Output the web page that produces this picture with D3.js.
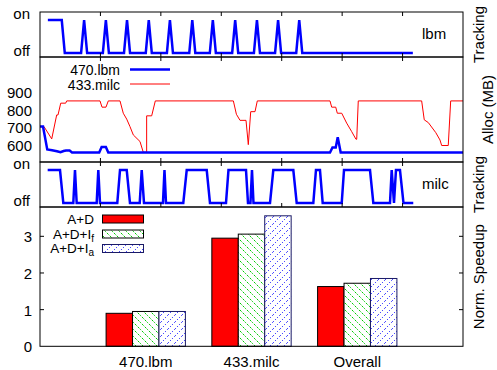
<!DOCTYPE html>
<html><head><meta charset="utf-8">
<script src="https://cdn.jsdelivr.net/npm/d3@7"></script>
<style>
body{margin:0;background:#fff}
text{font-family:"Liberation Sans",Arial,sans-serif;font-size:15px;fill:#000}
</style>
</head><body>
<svg id="c" width="497" height="370"></svg>
<script>
// ---------- data ----------
const trackTicks = ["off", "on"];
const timeTicks = [10, 20, 30, 40, 50, 60];
// lbm tracking state (time, 0=off / 1=on)
const lbmTrack = [[1.3,1],[3.6,1],[4.1,0],
  [6.8,0],[7.3,1],[7.8,0],[10.4,0],[10.9,1],[11.4,0],[13.9,0],[14.4,1],[14.9,0],
  [17.5,0],[18.0,1],[18.5,0],[21.0,0],[21.5,1],[22.0,0],[24.7,0],[25.2,1],[25.7,0],
  [28.1,0],[28.6,1],[29.1,0],[31.8,0],[32.3,1],[32.8,0],[35.4,0],[35.9,1],[36.4,0],
  [38.9,0],[39.4,1],[39.9,0],[42.4,0],[42.9,1],[43.4,0],[61.7,0]];
// milc tracking state
const milcTrack = [[1.27,1],[3.31,1],[3.86,0],[5.51,0],[5.79,1],[6.07,0],[9.38,0],[9.65,1],[9.93,0],
  [12.79,0],[13.24,1],[14.35,1],[14.89,0],[16.5,0],[16.83,1],[17.21,0],[20.35,0],[20.6,1],[20.85,0],
  [23.71,0],[24.28,1],[27.59,1],[28.13,0],[30.78,0],[31.19,1],[34.09,1],[34.42,0],[34.83,0],[35.08,1],[35.33,0],
  [38.06,0],[38.61,1],[41.92,1],[42.48,0],[45.23,0],[45.67,1],[46.33,1],[46.78,0],[49.93,0],[50.31,1],
  [54.61,1],[55.16,0],[57.92,0],[58.2,1],[58.58,0],[58.91,1],[59.57,1],[60.15,0],[61.77,0]];
// allocation (MB)
const allocTicks = [600, 700, 800, 900];
const lbmAlloc = [[0,704],[0.5,704],[1.2,572],[2.0,568],[2.8,562],[3.4,556],[3.9,563],[4.3,566],[4.9,566],
  [5.3,555],[9.8,555],[10.2,587],[10.9,587],[11.3,555],[47.99,555],[48.4,584],[48.94,584],[49.27,643],
  [49.76,555],[70,555]];
const milcAlloc = [[0,704],[0.66,704],[1.94,633],[2.76,771],[2.98,771],[3.43,839],[4.25,839],[4.42,852],
  [9.93,852],[10.26,816],[10.92,816],[11.3,852],[13.24,852],[13.78,781],[14.35,747],[14.89,704],[15.44,656],
  [16.55,618],[17.09,556],[17.65,556],[17.65,766],[18.48,766],[19.08,852],[32.0,852],[32.5,775],[33.1,740],
  [34.09,740],[34.47,600],[34.87,790],[35.58,790],[35.96,852],[47.99,852],[48.27,816],[48.94,816],[49.2,781],
  [49.93,781],[50.75,724],[51.58,675],[52.29,631],[52.41,631],[52.67,852],[63.16,852],[63.59,743],[64.26,727],
  [65.5,669],[66.19,627],[66.47,595],[67.56,595],[67.96,852],[70,852]];
const allocNames = ["470.lbm", "433.milc"];
// speedup bars
const categories = ["470.lbm", "433.milc", "Overall"];
const seriesNames = ["A+D", "A+D+I", "A+D+I"];
const seriesSubs = ["", "f", "a"];
const speedAD = [0.90, 2.95, 1.63];
const speedIf = [0.95, 3.06, 1.72];
const speedIa = [0.95, 3.56, 1.85];
const speedTicks = [0, 1, 2, 3];

// ---------- layout ----------
const L = 40, R = 463;
const P1 = [12, 57], P2 = [57, 162], P3 = [162, 207], P4 = [207, 346.3];
const svg = d3.select("#c");
const defs = svg.append("defs");
const pg = defs.append("pattern").attr("id","pg").attr("patternUnits","userSpaceOnUse").attr("width",7).attr("height",7);
pg.append("rect").attr("width",7).attr("height",7).attr("fill","#fff");
pg.append("path").attr("d","M-1,-1L8,8M-1,6L1,8M6,-1L8,1").attr("stroke","#00cc00").attr("stroke-width",1).attr("stroke-dasharray","2.5,1.5");
const pb = defs.append("pattern").attr("id","pb").attr("patternUnits","userSpaceOnUse").attr("width",7).attr("height",7);
pb.append("rect").attr("width",7).attr("height",7).attr("fill","#fff");
pb.append("path").attr("d","M0,7L7,0M-1,1L1,-1M6,8L8,6").attr("stroke","#0000ff").attr("stroke-width",1).attr("stroke-dasharray","1,2");

const x = d3.scaleLinear().domain([0, 70]).range([L, R]);

function frame(p){
  svg.append("rect").attr("x",L).attr("y",p[0]).attr("width",R-L).attr("height",p[1]-p[0])
    .attr("fill","none").attr("stroke","#000").attr("stroke-width",1);
}
function timeTicksOn(p){
  const g = svg.append("g");
  g.selectAll("line.t").data(timeTicks).enter().append("line")
    .attr("x1",d=>x(d)).attr("x2",d=>x(d)).attr("y1",p[0]).attr("y2",p[0]+4).attr("stroke","#000");
  g.selectAll("line.b").data(timeTicks).enter().append("line")
    .attr("x1",d=>x(d)).attr("x2",d=>x(d)).attr("y1",p[1]-4).attr("y2",p[1]).attr("stroke","#000");
}
function sideLabel(txt, cy, bx){
  svg.append("text").attr("transform",`translate(${bx},${cy}) rotate(-90)`).attr("text-anchor","middle").text(txt);
}

// ---------- tracking panels ----------
function trackPanel(p, data, name){
  const y = d3.scaleLinear().domain([-0.121, 1.243]).range([p[1], p[0]]);
  const ax = svg.append("g").attr("transform",`translate(${L},0)`)
    .call(d3.axisLeft(y).tickValues([0,1]).tickFormat(i=>trackTicks[i]).tickSize(0).tickPadding(10));
  ax.select(".domain").remove();
  ax.selectAll("text").attr("font-size",null).attr("font-family",null).attr("dy",null)
    .attr("y", d => d === 1 ? -2 : 2.5);
  ax.attr("font-size",null).attr("font-family",null);
  svg.append("path").datum(data).attr("fill","none").attr("stroke","#0000ff").attr("stroke-width",2.5)
    .attr("stroke-linejoin","miter")
    .attr("d", d3.line().x(d=>x(d[0])).y(d=>y(d[1])));
  frame(p); timeTicksOn(p);
  svg.append("text").attr("x",422).attr("y",(p[0]+p[1])/2-1).attr("dy","0.36em").text(name);
  sideLabel("Tracking",(p[0]+p[1])/2,484);
}
trackPanel(P1, lbmTrack, "lbm");
trackPanel(P3, milcTrack, "milc");

// ---------- alloc panel ----------
const ya = d3.scaleLinear().domain([500, 1105]).range([P2[1], P2[0]]);
const axA = svg.append("g").attr("transform",`translate(${L},0)`)
  .call(d3.axisLeft(ya).tickValues(allocTicks).tickFormat(d3.format("d")).tickSize(0).tickPadding(8));
axA.select(".domain").remove();
axA.attr("font-size",null).attr("font-family",null);
axA.selectAll("text").attr("font-size",null).attr("font-family",null).attr("dy","0.36em");
const aline = d3.line().x(d=>x(d[0])).y(d=>ya(d[1]));
svg.append("path").datum(milcAlloc).attr("fill","none").attr("stroke","#ff0000").attr("stroke-width",1).attr("d",aline);
svg.append("path").datum(lbmAlloc).attr("fill","none").attr("stroke","#0000ff").attr("stroke-width",2.5).attr("d",aline);
frame(P2); timeTicksOn(P2);
const legA = [{n:allocNames[0],c:"#0000ff",w:2.5,y:70},{n:allocNames[1],c:"#ff0000",w:1,y:84.5}];
legA.forEach(d=>{
  svg.append("text").attr("x",120).attr("y",d.y).attr("dy","0.36em").attr("text-anchor","end")
    .style("font-size","14px").text(d.n);
  svg.append("line").attr("x1",130).attr("x2",170).attr("y1",d.y-0.5).attr("y2",d.y-0.5).attr("stroke",d.c).attr("stroke-width",d.w);
});
sideLabel("Alloc (MB)",(P2[0]+P2[1])/2,493);

// ---------- speedup bars ----------
const xb = d3.scaleLinear().domain([0, 4]).range([L, R]);
const yb = d3.scaleLinear().domain([0, 3.8]).range([P4[1], P4[0]]);
const bw = 0.25;
const fills = ["#ff0000","url(#pg)","url(#pb)"];
const strokes = ["#000","#000","#1a1a66"];
const series = [speedAD, speedIf, speedIa];
series.forEach((vals, s) => {
  svg.append("g").selectAll("rect").data(vals).enter().append("rect")
    .attr("x", (d,i) => xb(i+1 + (s-1.5)*bw))
    .attr("width", xb(bw) - xb(0))
    .attr("y", d => yb(d))
    .attr("height", d => yb(0) - yb(d))
    .attr("fill", fills[s]).attr("stroke", strokes[s]).attr("stroke-width",1);
});
const axB = svg.append("g").attr("transform",`translate(${L},0)`)
  .call(d3.axisLeft(yb).tickValues(speedTicks).tickFormat(d3.format("d")).tickSize(0).tickPadding(8));
axB.select(".domain").remove();
axB.attr("font-size",null).attr("font-family",null);
axB.selectAll("text").attr("font-size",null).attr("font-family",null).attr("dy","0.36em");
svg.append("g").selectAll("line").data(speedTicks.slice(1)).enter().append("line")
  .attr("x1",L).attr("x2",L+4).attr("y1",d=>yb(d)).attr("y2",d=>yb(d)).attr("stroke","#000");
svg.append("g").selectAll("line").data(speedTicks.slice(1)).enter().append("line")
  .attr("x1",R-4).attr("x2",R).attr("y1",d=>yb(d)).attr("y2",d=>yb(d)).attr("stroke","#000");
frame(P4);
svg.append("g").selectAll("text").data(categories).enter().append("text")
  .attr("x",(d,i)=>xb(i+1)).attr("y",362).attr("dy","0.36em").attr("text-anchor","middle").text(d=>d);
const legRows = [219, 234, 248.5];
seriesNames.forEach((n,s)=>{
  const t = svg.append("text").attr("x",94).attr("y",legRows[s]).attr("dy","0.36em").attr("text-anchor","end")
    .style("font-size","13.5px");
  t.append("tspan").text(n);
  if (seriesSubs[s]) t.append("tspan").style("font-size","10px").attr("dy","3").text(seriesSubs[s]);
  svg.append("rect").attr("x",102.5).attr("y",legRows[s]-4).attr("width",41).attr("height",8)
    .attr("fill",fills[s]).attr("stroke",strokes[s]).attr("stroke-width",1);
});
sideLabel("Norm. Speedup",(P4[0]+P4[1])/2,484);
</script>
</body></html>
